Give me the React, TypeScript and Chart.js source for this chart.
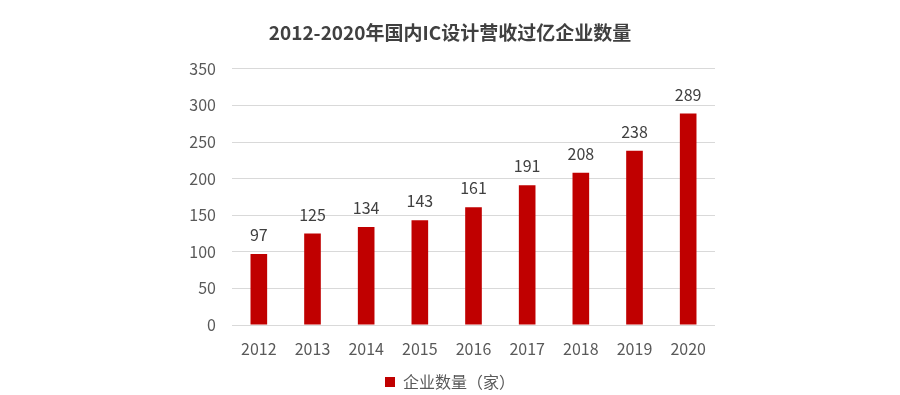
import React, { useEffect, useRef } from "react";
import { Chart, registerables } from "chart.js";

Chart.register(...registerables);

const years = ["2012", "2013", "2014", "2015", "2016", "2017", "2018", "2019", "2020"];
const counts = [97, 125, 134, 143, 161, 191, 208, 238, 289];
const seriesName = "企业数量（家）";
const titleText = "2012-2020年国内IC设计营收过亿企业数量";

const FONT = "'Noto Sans CJK SC', 'Noto Sans', sans-serif";

const valueLabels = {
  id: "valueLabels",
  afterDatasetsDraw(chart: any) {
    const ctx = chart.ctx;
    const meta = chart.getDatasetMeta(0);
    ctx.save();
    ctx.font = `16px ${FONT}`;
    ctx.fillStyle = "#404040";
    ctx.textAlign = "center";
    ctx.textBaseline = "middle";
    meta.data.forEach((bar: any, i: number) => {
      ctx.fillText(String(chart.data.datasets[0].data[i]), bar.x, bar.y - 19);
    });
    ctx.restore();
  },
};

export default function App() {
  const ref = useRef<HTMLCanvasElement>(null);
  useEffect(() => {
    if (!ref.current) return;
    const chart = new Chart(ref.current, {
      type: "bar",
      data: {
        labels: years,
        datasets: [
          {
            label: seriesName,
            data: counts,
            backgroundColor: "#C00000",
            borderWidth: 0,
            categoryPercentage: 1,
            barPercentage: 0.31,
          },
        ],
      },
      options: {
        responsive: false,
        animation: false,
        layout: { padding: { left: 0, right: 0, top: 0, bottom: -5 } },
        plugins: {
          title: {
            display: true,
            text: titleText,
            color: "#404040",
            font: { family: FONT, size: 19, weight: "bold" },
            padding: { top: 21, bottom: 25 },
          },
          legend: {
            display: true,
            position: "bottom",
            labels: {
              color: "#595959",
              font: { family: FONT, size: 16 },
              boxWidth: 10,
              boxHeight: 10,
              padding: 8,
            },
          },
          tooltip: { enabled: false },
        },
        scales: {
          x: {
            grid: { display: false, drawTicks: false },
            border: { display: false },
            ticks: { color: "#595959", font: { family: FONT, size: 16 }, padding: 14 },
            afterFit(scale: any) {
              scale.height = 41;
            },
          },
          y: {
            min: 0,
            max: 350,
            grid: { color: "#D9D9D9", drawTicks: false },
            border: { display: false },
            ticks: { stepSize: 50, color: "#595959", font: { family: FONT, size: 16 }, padding: 16 },
            afterFit(scale: any) {
              scale.width = 232;
            },
          },
          yRight: {
            position: "right",
            min: 0,
            max: 350,
            grid: { display: false, drawTicks: false },
            border: { display: false },
            ticks: { display: false },
            afterFit(scale: any) {
              scale.width = 185;
            },
          },
        },
      },
      plugins: [valueLabels],
    });
    return () => chart.destroy();
  }, []);
  return (
    <div style={{ position: "fixed", left: 0, top: 0, width: 900, height: 395, background: "#fff" }}>
      <canvas ref={ref} width={900} height={395} />
    </div>
  );
}
